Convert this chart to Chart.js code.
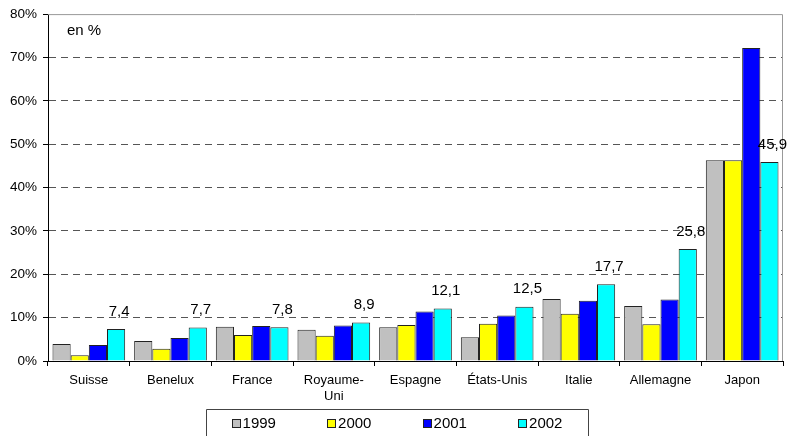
<!DOCTYPE html>
<html>
<head>
<meta charset="utf-8">
<script src="https://cdn.jsdelivr.net/npm/chart.js@4"></script>
<style>
  html, body { margin: 0; padding: 0; background: #fff; }
  #wrap { width: 795px; height: 436px; }
</style>
</head>
<body>
<div id="wrap"><canvas id="chart" width="795" height="436"></canvas></div>
<script>
// --- Data ---
const categories = ['Suisse', 'Benelux', 'France', ['Royaume-', 'Uni'], 'Espagne', 'États-Unis', 'Italie', 'Allemagne', 'Japon'];
const years = ['1999', '2000', '2001', '2002'];
const values1999 = [3.9, 4.6, 7.9, 7.2, 7.8, 5.5, 14.3, 12.7, 46.3];
const values2000 = [1.3, 2.8, 6.0, 5.8, 8.3, 8.6, 10.9, 8.5, 46.3];
const values2001 = [3.7, 5.3, 8.1, 8.2, 11.4, 10.5, 13.9, 14.2, 72.2];
const values2002 = [7.4, 7.7, 7.8, 8.9, 12.1, 12.5, 17.7, 25.8, 45.9];
const yTicks = [0, 10, 20, 30, 40, 50, 60, 70, 80];

const seriesColors = ['#c0c0c0', '#ffff00', '#0000ff', '#00ffff'];
const FONT = "Arial, 'Liberation Sans', sans-serif";

// labels above the last series, french decimal comma
const valueLabels = {
    id: 'valueLabels',
    afterDatasetsDraw(chart) {
        const { ctx } = chart;
        const meta = chart.getDatasetMeta(3);
        ctx.save();
        ctx.font = '15px ' + FONT;
        ctx.fillStyle = '#000';
        ctx.textAlign = 'center';
        ctx.textBaseline = 'bottom';
        meta.data.forEach((bar, i) => {
            const txt = values2002[i].toFixed(1).replace('.', ',');
            ctx.fillText(txt, bar.x + 3, bar.y - 10);
        });
        ctx.restore();
    }
};

// plot frame (top / right) and the "en %" note
const decorations = {
    id: 'decorations',
    beforeDatasetsDraw(chart) {
        const { ctx, chartArea: a } = chart;
        ctx.save();
        ctx.strokeStyle = '#999';
        ctx.lineWidth = 1;
        ctx.beginPath();
        ctx.moveTo(a.left, a.top + 0.5);
        ctx.lineTo(a.right - 0.5, a.top + 0.5);
        ctx.lineTo(a.right - 0.5, a.bottom);
        ctx.stroke();
        ctx.font = '15px ' + FONT;
        ctx.fillStyle = '#000';
        ctx.textBaseline = 'middle';
        ctx.fillText('en %', a.left + 19, a.top + 17);
        ctx.restore();
    }
};

// boxed legend below the axis, items spread like the original
const boxedLegend = {
    id: 'boxedLegend',
    afterDraw(chart) {
        const { ctx } = chart;
        const cx = 397, cy = 423, step = 95.5, sq = 8, gap = 3;
        const frameL = 206, frameR = 588, frameT = 409;
        ctx.save();
        ctx.font = '15px ' + FONT;
        ctx.textBaseline = 'middle';
        const lastW = sq + gap + ctx.measureText(years[years.length - 1]).width;
        let x = cx - ((years.length - 1) * step + lastW) / 2;
        chart.data.datasets.forEach((ds) => {
            const bx = Math.round(x) + 0.5, by = Math.round(cy - sq / 2) + 0.5;
            ctx.fillStyle = ds.backgroundColor;
            ctx.fillRect(bx, by, sq, sq);
            ctx.strokeStyle = '#222';
            ctx.lineWidth = 1;
            ctx.strokeRect(bx, by, sq, sq);
            ctx.fillStyle = '#000';
            ctx.fillText(ds.label, x + sq + gap, cy + 1);
            x += step;
        });
        ctx.strokeStyle = '#444';
        ctx.beginPath();
        ctx.moveTo(frameL + 0.5, chart.height + 2);
        ctx.lineTo(frameL + 0.5, frameT + 0.5);
        ctx.lineTo(frameR + 0.5, frameT + 0.5);
        ctx.lineTo(frameR + 0.5, chart.height + 2);
        ctx.stroke();
        ctx.restore();
    }
};

const allValues = [values1999, values2000, values2001, values2002];

new Chart(document.getElementById('chart'), {
    type: 'bar',
    data: {
        labels: categories,
        datasets: years.map((y, i) => ({
            label: y,
            data: allValues[i],
            backgroundColor: seriesColors[i],
            borderColor: '#222',
            borderWidth: 1,
            borderSkipped: 'bottom'
        }))
    },
    options: {
        responsive: false,
        animation: false,
        events: [],
        layout: { padding: { top: 13, right: 12, left: 0, bottom: 29 } },
        datasets: {
            bar: { categoryPercentage: 0.89, barPercentage: 1.0 }
        },
        plugins: {
            tooltip: { enabled: false },
            legend: { display: false }
        },
        scales: {
            x: {
                offset: true,
                grid: {
                    offset: true,
                    drawOnChartArea: false,
                    drawTicks: true,
                    tickLength: 5,
                    tickColor: '#000'
                },
                border: { display: true, color: '#000', width: 1 },
                ticks: {
                    color: '#000',
                    padding: 7,
                    maxRotation: 0,
                    autoSkip: false,
                    font: { family: FONT, size: 13 }
                },
                afterFit(scale) { scale.height = 46; }
            },
            y: {
                min: 0,
                max: 80,
                afterBuildTicks(scale) { scale.ticks = yTicks.map(v => ({ value: v })); },
                grid: {
                    color: ctx => (ctx.tick && (ctx.tick.value === 0 || ctx.tick.value === 80)) ? 'rgba(0,0,0,0)' : '#555',
                    tickLength: 5,
                    tickColor: '#000',
                    lineWidth: 1
                },
                border: { display: true, color: '#000', width: 1, dash: [7, 5] },
                ticks: {
                    color: '#000',
                    padding: 6,
                    font: { family: FONT, size: 13.5 },
                    callback: v => v + '%'
                },
                afterFit(scale) { scale.width = 48; }
            }
        }
    },
    plugins: [valueLabels, decorations, boxedLegend]
});
</script>
</body>
</html>
